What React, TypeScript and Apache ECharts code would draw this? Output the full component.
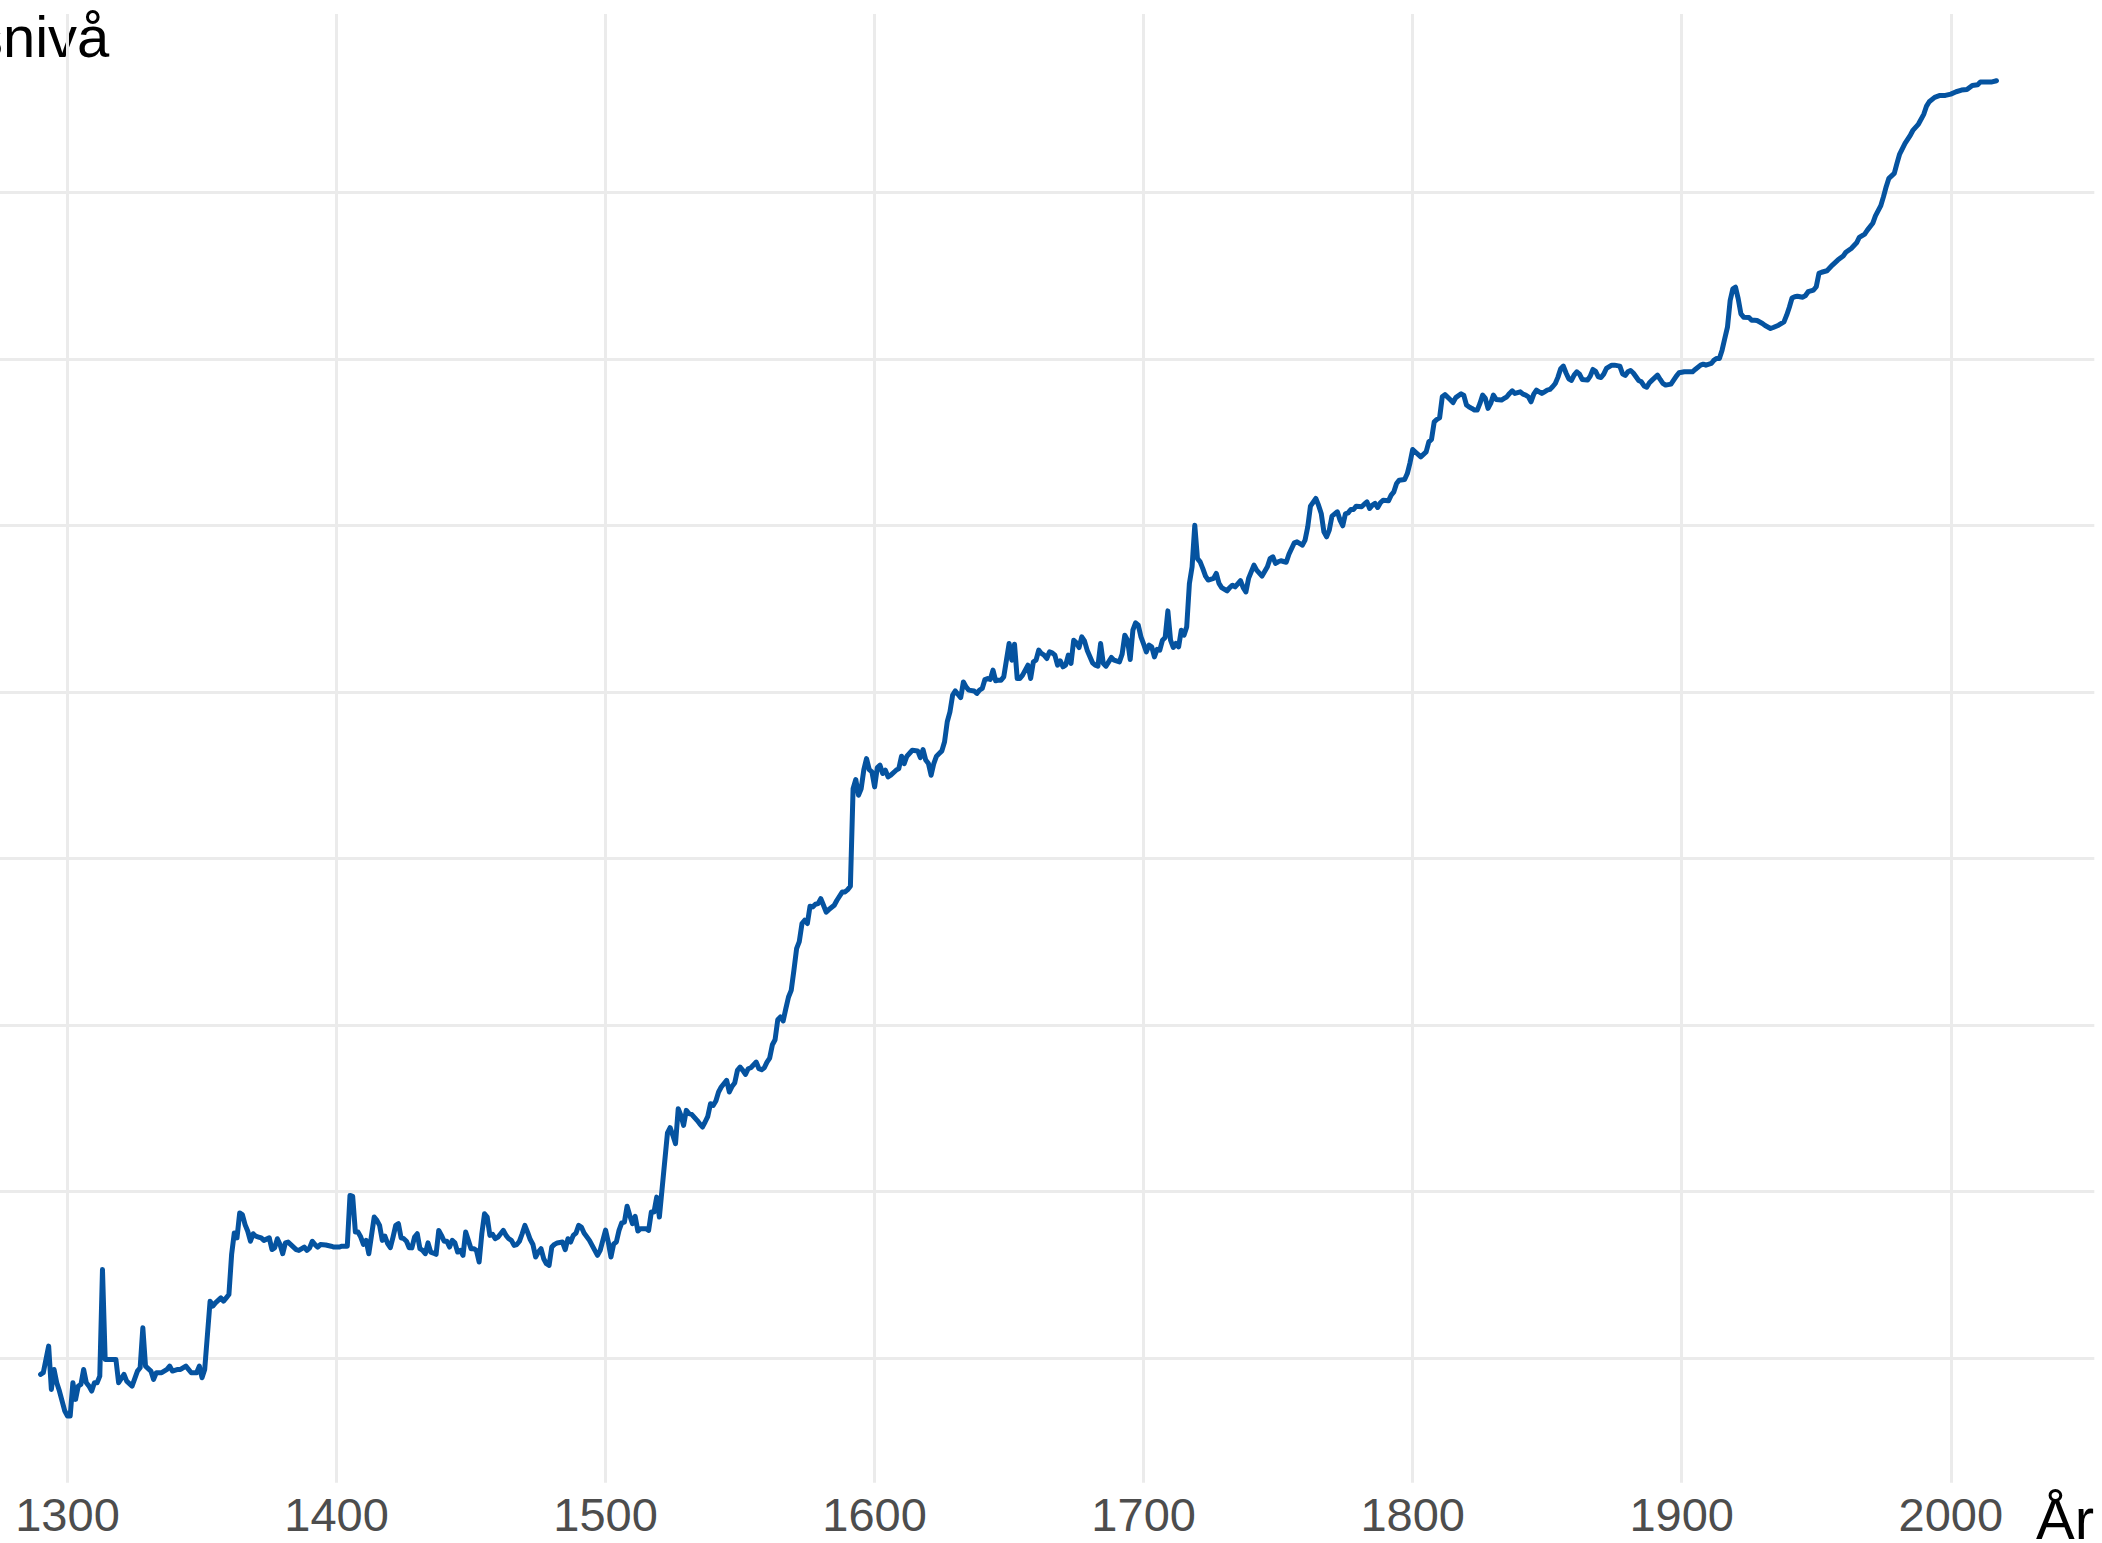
import React, { useEffect, useRef } from "react";
import * as echarts from "echarts";

// Price level on the chart's (log) grid scale: one unit per horizontal gridline.
const years: number[] = [
  1290, 1291, 1293, 1294, 1295, 1296, 1297, 1299, 1300, 1301, 1302, 1303, 1304, 1305, 1306, 1307, 1308, 1309, 1310, 1311, 1312, 1313, 1314, 1318, 1319, 1321, 1322, 1324, 1326, 1327, 1328, 1329, 1331, 1332, 1333, 1335, 1337, 1338, 1339, 1341, 1342, 1344, 1346, 1348, 1349, 1350, 1351,
  1353, 1354, 1355, 1357, 1358, 1359, 1360, 1361, 1362, 1363, 1364, 1365, 1366, 1367, 1368, 1369, 1370, 1371, 1372, 1373, 1375, 1376, 1377, 1378, 1379, 1380, 1381, 1382, 1383, 1385, 1386, 1388, 1389, 1390, 1391, 1392, 1393, 1394, 1396, 1398, 1399,
  1401, 1402, 1404, 1405, 1406, 1407, 1408, 1409, 1410, 1411, 1412, 1413, 1414, 1415, 1416, 1417, 1418, 1419, 1420, 1421, 1422, 1423, 1424, 1425, 1426, 1427, 1428, 1429, 1430, 1431, 1432, 1433, 1434, 1435, 1436, 1437, 1438, 1439, 1440, 1441, 1442, 1443, 1444, 1445, 1446, 1447, 1448, 1449, 1450,
  1451, 1452, 1453, 1454, 1455, 1456, 1457, 1458, 1459, 1460, 1461, 1462, 1463, 1464, 1465, 1466, 1467, 1468, 1469, 1470, 1471, 1472, 1473, 1474, 1475, 1476, 1477, 1478, 1479, 1480, 1481, 1482, 1484, 1485, 1486, 1487, 1488, 1489, 1490, 1491, 1492, 1494, 1495, 1497, 1498,
  1500, 1501, 1502, 1503, 1504, 1505, 1506, 1507, 1508, 1509, 1510, 1511, 1512, 1513, 1515, 1516, 1517, 1518, 1519, 1520, 1523, 1524, 1525, 1526, 1527, 1528, 1529, 1530, 1531, 1532, 1534, 1535, 1536, 1537, 1538, 1539, 1540, 1541, 1542, 1543, 1545, 1546, 1547, 1548, 1549, 1550,
  1551, 1552, 1553, 1554, 1556, 1557, 1558, 1559, 1560, 1561, 1562, 1563, 1564, 1565, 1566, 1567, 1568, 1569, 1570, 1571, 1572, 1573, 1574, 1575, 1576, 1577, 1578, 1579, 1580, 1581, 1582, 1583, 1585, 1586, 1588, 1589, 1590, 1591, 1592, 1593, 1594, 1595, 1596, 1597, 1598, 1599,
  1600, 1601, 1602, 1603, 1604, 1605, 1606, 1608, 1609, 1610, 1611, 1612, 1614, 1616, 1617, 1618, 1619, 1620, 1621, 1622, 1623, 1624, 1625, 1626, 1627, 1628, 1629, 1630, 1632, 1633, 1634, 1635, 1637, 1638, 1639, 1640, 1641, 1642, 1643, 1644, 1645, 1646, 1647, 1648, 1649, 1650,
  1651, 1652, 1653, 1654, 1655, 1657, 1658, 1659, 1660, 1661, 1662, 1663, 1664, 1665, 1666, 1667, 1668, 1669, 1670, 1671, 1672, 1673, 1674, 1675, 1676, 1677, 1678, 1679, 1681, 1682, 1683, 1684, 1685, 1686, 1687, 1688, 1689, 1691, 1692, 1693, 1694, 1695, 1696, 1697, 1698, 1699,
  1700, 1701, 1702, 1703, 1704, 1705, 1706, 1707, 1708, 1709, 1710, 1711, 1712, 1713, 1714, 1715, 1716, 1717, 1718, 1719, 1720, 1721, 1722, 1723, 1724, 1726, 1727, 1728, 1729, 1731, 1732, 1733, 1734, 1736, 1737, 1738, 1739, 1741, 1742, 1744, 1746, 1747, 1748, 1749, 1750,
  1751, 1753, 1754, 1756, 1757, 1759, 1760, 1761, 1762, 1764, 1765, 1766, 1767, 1768, 1769, 1770, 1772, 1773, 1774, 1775, 1776, 1777, 1778, 1779, 1781, 1782, 1783, 1784, 1785, 1786, 1787, 1788, 1789, 1791, 1792, 1793, 1794, 1795, 1797, 1798, 1799,
  1800, 1801, 1803, 1805, 1806, 1807, 1808, 1809, 1810, 1811, 1812, 1814, 1815, 1816, 1818, 1819, 1820, 1821, 1822, 1823, 1824, 1825, 1826, 1827, 1828, 1829, 1830, 1831, 1833, 1834, 1835, 1836, 1837, 1838, 1840, 1841, 1842, 1843, 1844, 1845, 1846, 1847, 1848, 1849, 1850,
  1851, 1852, 1853, 1854, 1855, 1856, 1857, 1858, 1859, 1860, 1861, 1862, 1863, 1865, 1866, 1867, 1868, 1869, 1870, 1871, 1872, 1874, 1875, 1877, 1878, 1879, 1880, 1881, 1882, 1883, 1884, 1885, 1886, 1887, 1888, 1889, 1891, 1892, 1893, 1894, 1896, 1897, 1898, 1899,
  1901, 1902, 1904, 1905, 1907, 1908, 1909, 1911, 1912, 1913, 1914, 1915, 1916, 1917, 1918, 1919, 1920, 1921, 1922, 1923, 1925, 1926, 1927, 1928, 1930, 1931, 1933, 1934, 1936, 1938, 1939, 1940, 1941, 1942, 1943, 1945, 1946, 1947, 1949, 1950,
  1951, 1952, 1954, 1956, 1958, 1960, 1961, 1963, 1965, 1966, 1968, 1969, 1971, 1972, 1974, 1975, 1976, 1977, 1979, 1980, 1981, 1983, 1985, 1986, 1988, 1990, 1991, 1992, 1994, 1996, 1998,
  2000, 2002, 2004, 2006, 2008, 2010, 2011, 2013, 2015, 2017,
];

const levels: number[] = [
  -0.10, -0.09, 0.07, -0.19, -0.07, -0.15, -0.20, -0.32, -0.35, -0.35, -0.15, -0.25, -0.17, -0.16, -0.07, -0.15, -0.17, -0.20, -0.15, -0.15, -0.11, 0.53, -0.01, -0.01, -0.15, -0.10, -0.14, -0.17, -0.08, -0.06, 0.18, -0.05, -0.08, -0.13, -0.09, -0.09, -0.07, -0.05, -0.08, -0.07, -0.07, -0.05, -0.09, -0.09, -0.05, -0.12, -0.07,
  0.34, 0.31, 0.33, 0.36, 0.34, 0.36, 0.38, 0.62, 0.75, 0.72, 0.87, 0.86, 0.80, 0.76, 0.70, 0.745, 0.73, 0.725, 0.72, 0.705, 0.72, 0.65, 0.66, 0.715, 0.68, 0.625, 0.69, 0.695, 0.68, 0.65, 0.645, 0.665, 0.645, 0.66, 0.70, 0.68, 0.665, 0.68, 0.677, 0.67, 0.665,
  0.665, 0.67, 0.67, 0.975, 0.969, 0.755, 0.755, 0.725, 0.681, 0.705, 0.625, 0.735, 0.845, 0.825, 0.795, 0.705, 0.73, 0.685, 0.661, 0.725, 0.795, 0.805, 0.72, 0.715, 0.70, 0.661, 0.66, 0.725, 0.745, 0.655, 0.645, 0.625, 0.69, 0.635, 0.629, 0.621, 0.765, 0.735, 0.70, 0.70, 0.665, 0.705, 0.69, 0.635, 0.645, 0.615, 0.755, 0.705, 0.655,
  0.655, 0.645, 0.575, 0.745, 0.865, 0.845, 0.735, 0.741, 0.715, 0.725, 0.745, 0.765, 0.735, 0.715, 0.705, 0.675, 0.68, 0.70, 0.745, 0.795, 0.755, 0.71, 0.68, 0.605, 0.635, 0.655, 0.595, 0.565, 0.555, 0.665, 0.681, 0.689, 0.695, 0.649, 0.715, 0.695, 0.735, 0.749, 0.795, 0.785, 0.749, 0.705, 0.675, 0.615, 0.645,
  0.767, 0.695, 0.605, 0.683, 0.695, 0.765, 0.81, 0.815, 0.91, 0.855, 0.805, 0.849, 0.761, 0.775, 0.775, 0.765, 0.875, 0.875, 0.965, 0.845, 1.35, 1.382, 1.336, 1.286, 1.496, 1.456, 1.396, 1.486, 1.466, 1.462, 1.426, 1.405, 1.386, 1.416, 1.45, 1.526, 1.516, 1.542, 1.596, 1.626, 1.666, 1.596, 1.63, 1.65, 1.726, 1.746,
  1.726, 1.702, 1.736, 1.742, 1.776, 1.736, 1.73, 1.742, 1.776, 1.80, 1.88, 1.91, 2.03, 2.047, 2.023, 2.097, 2.167, 2.207, 2.327, 2.457, 2.50, 2.608, 2.628, 2.608, 2.712, 2.708, 2.724, 2.728, 2.758, 2.718, 2.677, 2.692, 2.718, 2.748, 2.798, 2.798, 2.812, 2.832, 3.418, 3.473, 3.379, 3.418, 3.533, 3.599, 3.533, 3.519,
  3.429, 3.545, 3.559, 3.509, 3.529, 3.489, 3.499, 3.529, 3.539, 3.613, 3.569, 3.613, 3.649, 3.645, 3.605, 3.653, 3.59, 3.569, 3.499, 3.569, 3.613, 3.629, 3.645, 3.70, 3.82, 3.879, 3.98, 4.005, 3.965, 4.059, 4.029, 4.01, 4.005, 3.99, 4.01, 4.02, 4.074, 4.08, 4.074, 4.13, 4.066, 4.07, 4.07, 4.09, 4.19, 4.29,
  4.19, 4.286, 4.08, 4.08, 4.10, 4.16, 4.08, 4.18, 4.19, 4.25, 4.23, 4.22, 4.20, 4.24, 4.234, 4.22, 4.16, 4.186, 4.15, 4.16, 4.22, 4.17, 4.31, 4.294, 4.266, 4.33, 4.306, 4.25, 4.174, 4.16, 4.154, 4.29, 4.17, 4.154, 4.18, 4.206, 4.19, 4.18, 4.226, 4.34, 4.31, 4.194, 4.37, 4.414, 4.40, 4.33,
  4.286, 4.24, 4.28, 4.27, 4.21, 4.255, 4.25, 4.31, 4.326, 4.486, 4.31, 4.266, 4.29, 4.27, 4.37, 4.34, 4.39, 4.65, 4.75, 5.00, 4.80, 4.78, 4.74, 4.695, 4.671, 4.681, 4.711, 4.651, 4.626, 4.606, 4.626, 4.64, 4.63, 4.667, 4.626, 4.60, 4.681, 4.761, 4.731, 4.695, 4.751, 4.80, 4.811, 4.771, 4.781,
  4.787, 4.778, 4.826, 4.895, 4.901, 4.881, 4.911, 4.991, 5.115, 5.161, 5.121, 5.071, 4.961, 4.931, 4.971, 5.055, 5.081, 5.031, 4.997, 5.069, 5.075, 5.095, 5.095, 5.115, 5.111, 5.127, 5.141, 5.101, 5.121, 5.131, 5.107, 5.135, 5.151, 5.147, 5.181, 5.201, 5.251, 5.271, 5.275, 5.311, 5.375,
  5.455, 5.44, 5.411, 5.441, 5.501, 5.516, 5.621, 5.636, 5.645, 5.772, 5.785, 5.754, 5.737, 5.767, 5.79, 5.78, 5.722, 5.71, 5.702, 5.692, 5.692, 5.732, 5.782, 5.762, 5.702, 5.732, 5.782, 5.756, 5.752, 5.762, 5.772, 5.792, 5.808, 5.792, 5.802, 5.788, 5.782, 5.772, 5.742, 5.788, 5.812, 5.802, 5.792, 5.802, 5.812,
  5.816, 5.832, 5.852, 5.89, 5.94, 5.956, 5.915, 5.88, 5.87, 5.902, 5.922, 5.908, 5.876, 5.872, 5.896, 5.936, 5.925, 5.892, 5.888, 5.908, 5.942, 5.962, 5.962, 5.956, 5.91, 5.90, 5.922, 5.93, 5.915, 5.892, 5.87, 5.862, 5.837, 5.829, 5.856, 5.872, 5.902, 5.876, 5.852, 5.842, 5.848, 5.872, 5.896, 5.916,
  5.922, 5.922, 5.922, 5.936, 5.962, 5.968, 5.962, 5.972, 5.992, 6.002, 6.002, 6.052, 6.122, 6.19, 6.35, 6.42, 6.43, 6.36, 6.27, 6.25, 6.248, 6.232, 6.232, 6.23, 6.212, 6.20, 6.182, 6.188, 6.202, 6.222, 6.262, 6.31, 6.365, 6.373, 6.376, 6.37, 6.38, 6.403, 6.413, 6.433,
  6.513, 6.52, 6.529, 6.563, 6.593, 6.617, 6.64, 6.663, 6.697, 6.729, 6.749, 6.773, 6.814, 6.858, 6.92, 6.974, 7.034, 7.084, 7.114, 7.174, 7.23, 7.294, 7.344, 7.374, 7.41, 7.47, 7.518, 7.544, 7.57, 7.582, 7.582,
  7.59, 7.604, 7.614, 7.618, 7.642, 7.646, 7.662, 7.662, 7.662, 7.67,
];

const xTickYears: number[] = [1300, 1400, 1500, 1600, 1700, 1800, 1900, 2000];
const yGridLevels: number[] = [0, 1, 2, 3, 4, 5, 6, 7];
const yTitle = "Prisnivå";
const xTitle = "År";

const FONT = "'Liberation Sans', Arial, Helvetica, sans-serif";

export default function App() {
  const ref = useRef<HTMLDivElement>(null);

  useEffect(() => {
    if (!ref.current) return;
    const chart = echarts.init(ref.current, null, { renderer: "svg" });
    const data = years.map((y, i) => [y, levels[i]]);
    const xMin = 1290 - 0.05 * (2017 - 1290);
    const xMax = 2017 + 0.05 * (2017 - 1290);
    const yLo = -0.35;
    const yHi = 7.67;
    const yMin = yLo - 0.05 * (yHi - yLo);
    const yMax = yHi + 0.05 * (yHi - yLo);

    chart.setOption({
      animation: false,
      backgroundColor: "#ffffff",
      grid: {
        left: -57.2,
        top: 14,
        width: 2151.5,
        height: 1468.8,
        containLabel: false,
        outerBoundsMode: "none",
      },
      xAxis: {
        type: "value",
        min: xMin,
        max: xMax,
        axisLine: { show: false, onZero: false },
        axisTick: { show: false, customValues: xTickYears },
        axisLabel: {
          customValues: xTickYears,
          formatter: (v: number) => String(v),
          color: "#4D4D4D",
          fontSize: 47,
          fontFamily: FONT,
          margin: 8,
        },
        splitLine: { show: true, lineStyle: { color: "#EBEBEB", width: 3 } },
      },
      yAxis: {
        type: "value",
        min: yMin,
        max: yMax,
        axisLine: { show: false },
        axisTick: { show: false, customValues: yGridLevels },
        axisLabel: { show: false },
        splitLine: { show: true, lineStyle: { color: "#EBEBEB", width: 3 } },
      },
      series: [
        {
          type: "line",
          data,
          symbol: "none",
          showSymbol: false,
          lineStyle: { color: "#0553A0", width: 5, join: "round", cap: "round" },
          z: 3,
        },
      ],
      graphic: [
        {
          type: "text",
          x: -97,
          y: 36,
          style: {
            text: yTitle,
            fontSize: 58,
            fontFamily: FONT,
            fill: "#000000",
            align: "left",
            verticalAlign: "middle",
          },
        },
        {
          type: "text",
          x: 2094,
          y: 1518,
          style: {
            text: xTitle,
            fontSize: 58,
            fontFamily: FONT,
            fill: "#000000",
            align: "right",
            verticalAlign: "middle",
          },
        },
      ],
    });

    return () => chart.dispose();
  }, []);

  return (
    <div
      ref={ref}
      style={{ position: "absolute", left: 0, top: 0, width: 2102, height: 1543 }}
    />
  );
}
